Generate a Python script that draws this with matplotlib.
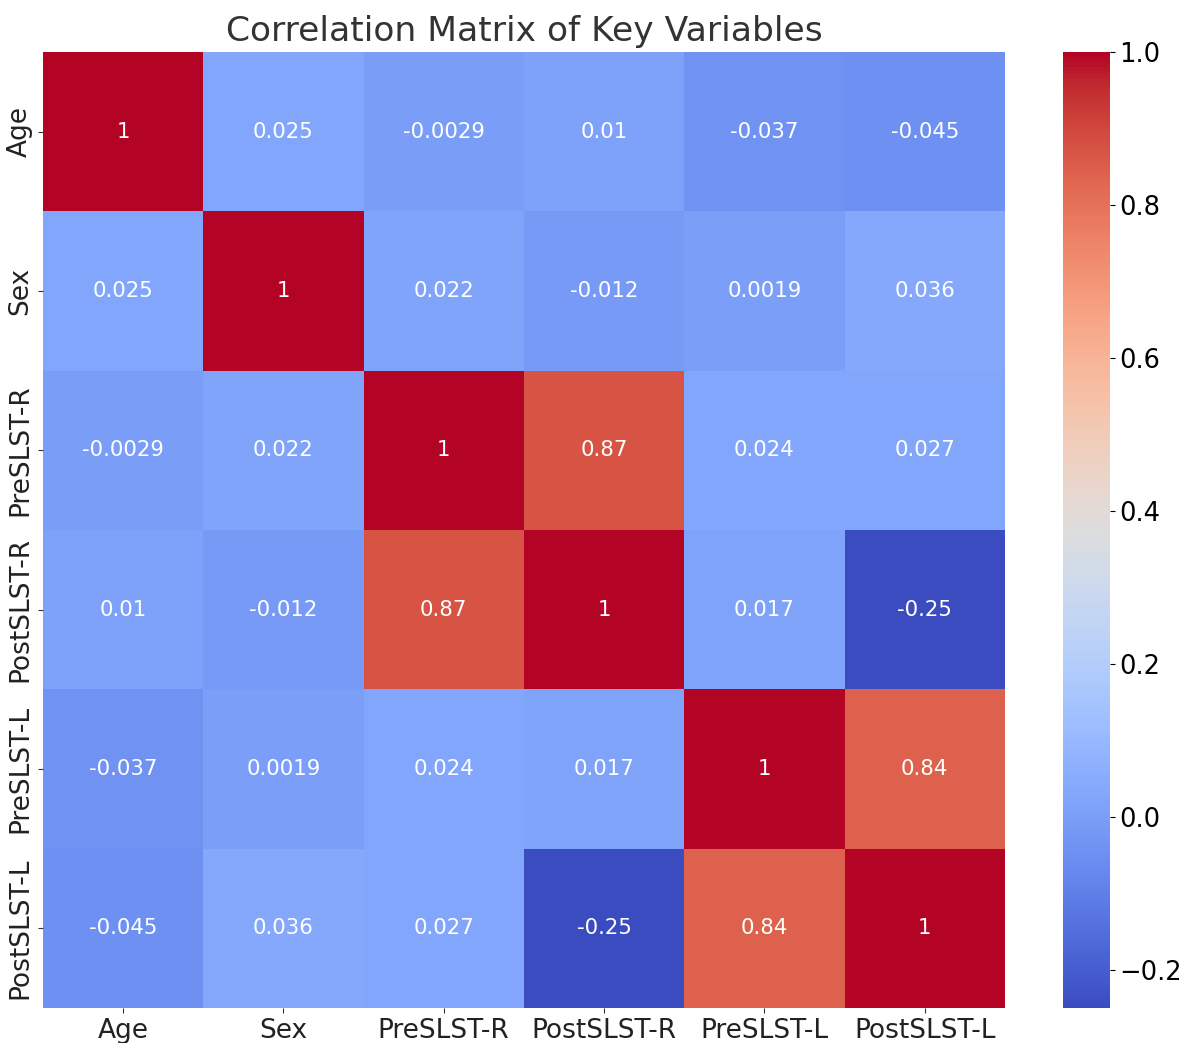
import numpy as np
import pandas as pd
import matplotlib
matplotlib.use('Agg')
import matplotlib.pyplot as plt
import seaborn as sns

# variables and correlation values
labels = ['Age', 'Sex', 'PreSLST-R', 'PostSLST-R', 'PreSLST-L', 'PostSLST-L']
row_age = [1, 0.025, -0.0029, 0.01, -0.037, -0.045]
row_sex = [0.025, 1, 0.022, -0.012, 0.0019, 0.036]
row_pre_r = [-0.0029, 0.022, 1, 0.87, 0.024, 0.027]
row_post_r = [0.01, -0.012, 0.87, 1, 0.017, -0.25]
row_pre_l = [-0.037, 0.0019, 0.024, 0.017, 1, 0.84]
row_post_l = [-0.045, 0.036, 0.027, -0.25, 0.84, 1]

corr = pd.DataFrame([row_age, row_sex, row_pre_r, row_post_r, row_pre_l, row_post_l],
                    index=labels, columns=labels)

fig = plt.figure(figsize=(11.92, 10.43), dpi=100)
ax = fig.add_axes([0.036, 0.0336, 0.807, 0.9165])
cax = fig.add_axes([0.892, 0.0336, 0.039, 0.9165])

sns.heatmap(corr, annot=True, cmap='coolwarm', ax=ax, cbar_ax=cax,
            annot_kws={'size': 15.3})
ax.set_title('Correlation Matrix of Key Variables', fontsize=24.8,
             color='#333333', pad=8)
ax.tick_params(axis='both', labelsize=19, colors='#333333', labelcolor='#222222')
cax.tick_params(labelsize=18.5)

fig.savefig('out.png', dpi=100)
